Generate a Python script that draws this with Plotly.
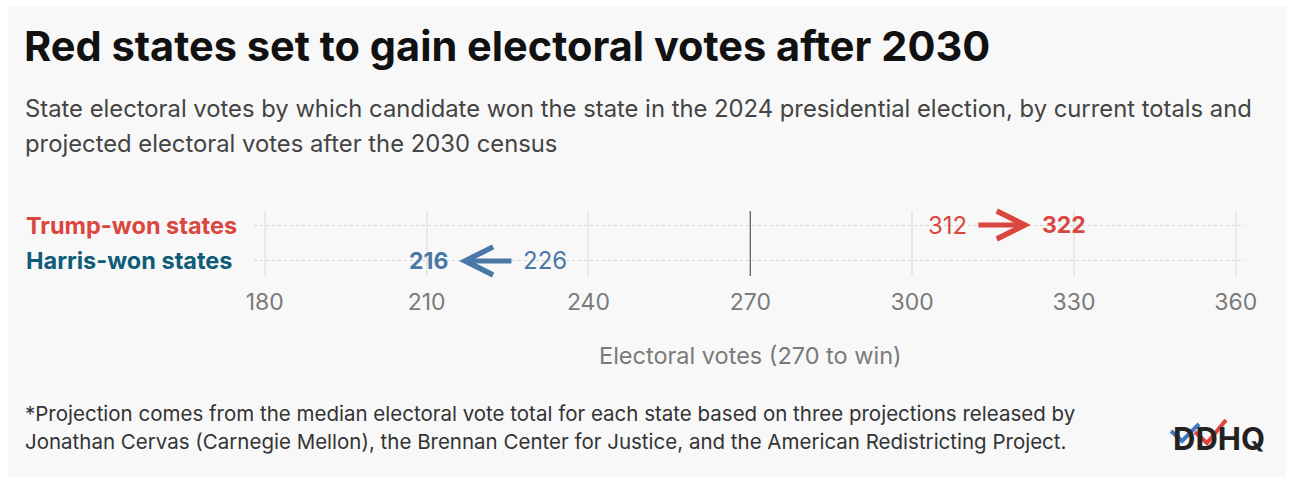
import plotly.graph_objects as go

# ---- data ----
groups = ["Harris-won states", "Trump-won states"]
current_votes = [226, 312]
projected_votes = [216, 322]
group_colors = ["#0f5c78", "#d9473f"]
value_colors = ["#4a78a6", "#d9473f"]
x_ticks = [180, 210, 240, 270, 300, 330, 360]
win_threshold = 270

W, H = 1293, 477
L, R, T, B = 254, 48, 211, 201
PW, PH = W - L - R, H - T - B


def px(x):
    return (x - L) / PW


def py(y):
    return (H - B - y) / PH


FONT = "Inter"
fig = go.Figure()

# invisible trace to set axes
fig.add_trace(go.Scatter(x=current_votes + projected_votes, y=[0, 1, 0, 1],
                         mode="markers", marker=dict(opacity=0), hoverinfo="skip",
                         showlegend=False))

shapes = []
# card background
shapes.append(dict(type="rect", xref="paper", yref="paper", x0=px(8), x1=px(1286),
                   y0=py(6), y1=py(478), fillcolor="#f8f8f8", line=dict(width=0), layer="below"))
# 270 line
shapes.append(dict(type="line", xref="x", yref="paper", x0=win_threshold, x1=win_threshold,
                   y0=0, y1=1, line=dict(color="#444444", width=1), layer="above"))

annotations = []
for i, g in enumerate(groups):
    annotations.append(dict(x=px(24), y=i, xref="paper", yref="y", text="<b>%s</b>" % g,
                            showarrow=False, xanchor="left", yanchor="middle",
                            font=dict(family=FONT, size=23.5, color=group_colors[i])))
    c, p = current_votes[i], projected_votes[i]
    # arrow
    annotations.append(dict(x=p, y=i, ax=c, ay=i, xref="x", yref="y", axref="x", ayref="y",
                            text="", showarrow=True, arrowhead=5, arrowsize=1.1,
                            arrowwidth=5, arrowcolor=value_colors[i], standoff=0,
                            startstandoff=0))
    sign = 1 if p > c else -1
    annotations.append(dict(x=c, y=i, xref="x", yref="y", text=str(c), showarrow=False,
                            xanchor="right" if sign > 0 else "left", xshift=-8 * sign,
                            yanchor="middle", yshift=0,
                            font=dict(family=FONT, size=24, color=value_colors[i])))
    annotations.append(dict(x=p, y=i, xref="x", yref="y", text="<b>%d</b>" % p, showarrow=False,
                            xanchor="left" if sign > 0 else "right", xshift=9 * sign,
                            yanchor="middle",
                            font=dict(family=FONT, size=23, color=value_colors[i])))

# title / subtitle
annotations.append(dict(x=px(22), y=py(46), xref="paper", yref="paper",
                        text="<b>Red states set to gain electoral votes after 2030</b>",
                        showarrow=False, xanchor="left", yanchor="middle",
                        font=dict(family=FONT, size=41.5, color="#111111")))
annotations.append(dict(x=px(23), y=py(109), xref="paper", yref="paper",
                        text="State electoral votes by which candidate won the state in the 2024 presidential election, by current totals and",
                        showarrow=False, xanchor="left", yanchor="middle",
                        font=dict(family=FONT, size=23.8, color="#444444")))
annotations.append(dict(x=px(23), y=py(143), xref="paper", yref="paper",
                        text="projected electoral votes after the 2030 census",
                        showarrow=False, xanchor="left", yanchor="middle",
                        font=dict(family=FONT, size=23.8, color="#444444")))
# axis title
annotations.append(dict(x=win_threshold, y=py(355), xref="x", yref="paper",
                        text="Electoral votes (270 to win)", showarrow=False,
                        xanchor="center", yanchor="middle",
                        font=dict(family=FONT, size=23.5, color="#7a7a7a")))
# footnote
annotations.append(dict(x=px(23), y=py(413), xref="paper", yref="paper",
                        text="*Projection comes from the median electoral vote total for each state based on three projections released by",
                        showarrow=False, xanchor="left", yanchor="middle",
                        font=dict(family=FONT, size=20.5, color="#333333")))
annotations.append(dict(x=px(23), y=py(441), xref="paper", yref="paper",
                        text="Jonathan Cervas (Carnegie Mellon), the Brennan Center for Justice, and the American Redistricting Project.",
                        showarrow=False, xanchor="left", yanchor="middle",
                        font=dict(family=FONT, size=20.5, color="#333333")))
# logo
annotations.append(dict(x=px(1267), y=py(438), xref="paper", yref="paper",
                        text="<b>DDHQ</b>", showarrow=False, xanchor="right", yanchor="middle",
                        font=dict(family=FONT, size=31, color="#222222")))


def path(pts):
    return "M " + " L ".join("%f,%f" % (px(a), py(b)) for a, b in pts)


shapes.append(dict(type="path", xref="paper", yref="paper",
                   path=path([(1171, 431), (1182, 441), (1199, 424)]),
                   line=dict(color="#3d7bbf", width=4)))
shapes.append(dict(type="path", xref="paper", yref="paper",
                   path=path([(1195, 432), (1207, 443), (1226, 420)]),
                   line=dict(color="#e0433b", width=4)))

fig.update_layout(
    width=W, height=H, margin=dict(l=L, r=R, t=T, b=B),
    paper_bgcolor="white", plot_bgcolor="rgba(0,0,0,0)",
    shapes=shapes, annotations=annotations, showlegend=False,
    xaxis=dict(range=[178, 361.7], tickvals=x_ticks, showgrid=True, gridcolor="#e8e8e8",
               gridwidth=2, zeroline=False, showline=False, ticks="",
               ticklabelstandoff=10,
               tickfont=dict(family=FONT, size=23, color="#7a7a7a"), fixedrange=True),
    yaxis=dict(range=[-0.42, 1.39], tickvals=[0, 1], showticklabels=False, showgrid=True,
               gridcolor="#d4d4d4", griddash="dot", gridwidth=1, zeroline=False,
               fixedrange=True),
)

fig.write_html("out.html")
